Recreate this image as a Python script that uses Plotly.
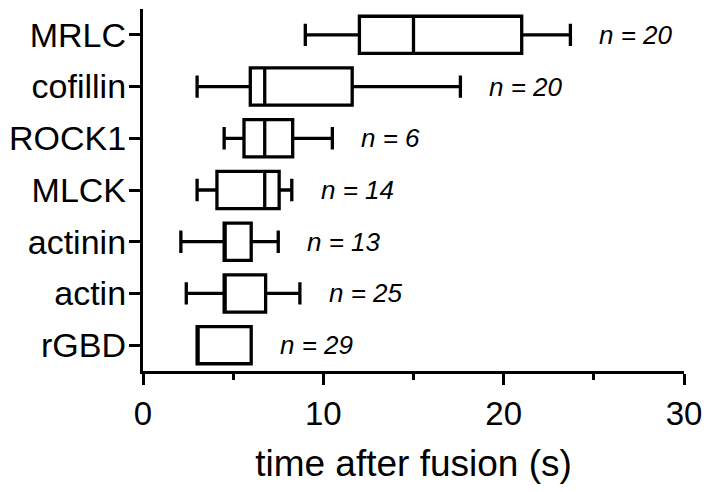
import plotly.graph_objects as go

categories = ["rGBD", "actin", "actinin", "MLCK", "ROCK1", "cofillin", "MRLC"]
lower = [3.0, 2.4, 2.1, 3.0, 4.5, 3.0, 9.0]
q1 = [3.0, 4.5, 4.5, 4.1, 5.6, 5.95, 12.0]
median = [3.0, 4.5, 4.5, 6.75, 6.75, 6.75, 15.0]
q3 = [6.0, 6.8, 6.0, 7.55, 8.3, 11.6, 21.0]
upper = [6.0, 8.7, 7.5, 8.25, 10.5, 17.6, 23.7]
n_labels = ["n = 29", "n = 25", "n = 13", "n = 14", "n = 6", "n = 20", "n = 20"]

FONT = "Liberation Sans, Arial, sans-serif"

fig = go.Figure()
fig.add_trace(go.Box(
    y=categories, q1=q1, median=median, q3=q3,
    lowerfence=lower, upperfence=upper,
    orientation="h", boxpoints=False, width=0.72,
    fillcolor="white", line=dict(color="black", width=3.3),
    whiskerwidth=0.6, showlegend=False, hoverinfo="skip",
))

for cat, up, lab in zip(categories, upper, n_labels):
    fig.add_annotation(
        x=up, y=cat, text=f"<i>{lab}</i>", showarrow=False,
        xanchor="left", yanchor="middle", xshift=27,
        font=dict(family=FONT, size=26, color="black"),
    )

# page body has an 8px default margin: figure is offset by (8, 8)
fig.update_layout(
    width=703, height=484,
    margin=dict(l=132, r=27, t=1, b=121),
    plot_bgcolor="white", paper_bgcolor="white",
    font=dict(family=FONT, color="black"),
)
fig.update_xaxes(
    range=[0, 30], tickvals=[0, 10, 20, 30],
    showline=True, linecolor="black", linewidth=3.3,
    ticks="outside", ticklen=11, tickwidth=3.3, tickcolor="black",
    minor=dict(tickvals=[5, 15, 25], ticks="outside", ticklen=6, tickwidth=3.3, tickcolor="black"),
    showgrid=False, zeroline=False,
    tickfont=dict(family=FONT, size=33),
    title=dict(text="time after fusion (s)", font=dict(family=FONT, size=37), standoff=20),
)
fig.update_yaxes(
    type="category", categoryorder="array", categoryarray=categories,
    range=[-0.5, 6.5],
    showline=True, linecolor="black", linewidth=3.3,
    ticks="outside", ticklen=11, tickwidth=3.3, tickcolor="black",
    showgrid=False, zeroline=False,
    tickfont=dict(family=FONT, size=34),
    ticklabelstandoff=-4,
)

fig.write_html("out.html")
